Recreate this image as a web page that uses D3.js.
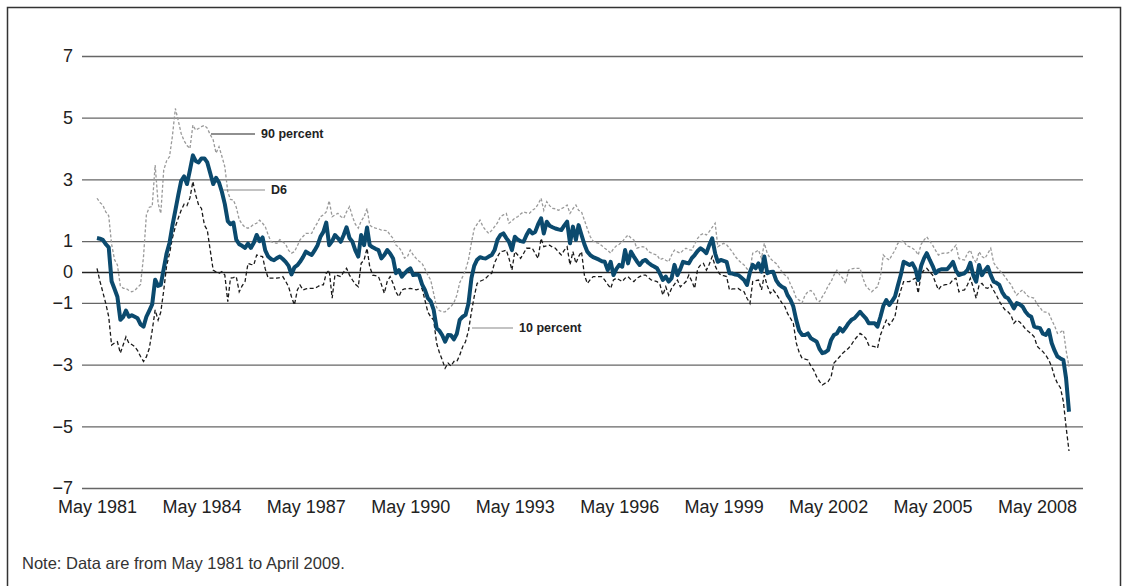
<!DOCTYPE html>
<html>
<head>
<meta charset="utf-8">
<script src="https://cdn.jsdelivr.net/npm/d3@7"></script>
<style>
  html, body { margin: 0; padding: 0; background: #fff; }
  svg { display: block; }
  text { font-family: "Liberation Sans", Arial, sans-serif; }
</style>
</head>
<body>
<svg id="chart" width="1128" height="586"></svg>
<script>
// monthly values, May 1981 .. April 2009 (one row per year, starting in May)
const d6 = [
  1.10, 1.08, 1.04, 0.90, 0.80, -0.30, -0.55, -0.80, -1.55, -1.45, -1.25, -1.45,
  -1.40, -1.45, -1.50, -1.70, -1.77, -1.45, -1.25, -1.05, -0.25, -0.45, -0.42, 0.10,
  0.60, 0.95, 1.50, 2.00, 2.50, 2.95, 3.10, 2.85, 3.30, 3.78, 3.60, 3.55,
  3.68, 3.68, 3.55, 3.20, 2.85, 3.05, 2.90, 2.60, 2.20, 1.65, 1.55, 1.60,
  1.05, 0.90, 0.85, 0.78, 0.92, 0.78, 0.95, 1.20, 1.00, 1.12, 0.70, 0.50,
  0.42, 0.38, 0.45, 0.50, 0.42, 0.33, 0.20, -0.08, 0.15, 0.22, 0.33, 0.48,
  0.66, 0.60, 0.55, 0.70, 0.87, 1.14, 1.30, 1.60, 0.87, 1.00, 1.20, 1.10,
  0.98, 1.20, 1.45, 1.10, 0.98, 0.70, 0.50, 1.20, 0.87, 1.44, 0.87, 0.80,
  0.75, 0.71, 0.44, 0.55, 0.71, 0.60, 0.44, -0.04, 0.06, -0.15, -0.05, 0.05,
  0.12, -0.10, -0.08, -0.10, -0.40, -0.58, -0.85, -0.95, -1.23, -1.82, -1.90, -2.05,
  -2.26, -2.04, -2.05, -2.18, -2.00, -1.55, -1.45, -1.39, -1.02, -0.20, 0.20, 0.40,
  0.48, 0.45, 0.44, 0.50, 0.55, 0.71, 1.05, 1.20, 1.25, 1.10, 0.98, 0.71,
  1.14, 1.05, 1.00, 0.98, 1.20, 1.36, 1.25, 1.30, 1.55, 1.74, 1.25, 1.63,
  1.50, 1.45, 1.41, 1.38, 1.36, 1.50, 1.63, 0.93, 1.47, 1.04, 1.52, 1.20,
  0.90, 0.66, 0.55, 0.48, 0.44, 0.40, 0.35, 0.33, 0.06, 0.33, -0.10, 0.10,
  0.23, 0.17, 0.71, 0.28, 0.66, 0.50, 0.35, 0.23, 0.35, 0.39, 0.30, 0.23,
  0.18, 0.12, -0.05, -0.26, -0.15, -0.31, -0.20, 0.23, -0.10, 0.10, 0.33, 0.30,
  0.28, 0.45, 0.55, 0.68, 0.77, 0.70, 0.61, 0.87, 1.09, 0.60, 0.33, 0.39,
  0.36, 0.33, -0.04, -0.05, -0.08, -0.10, -0.18, -0.26, -0.42, 0.00, 0.23, 0.12,
  0.28, 0.01, 0.50, -0.04, 0.00, 0.01, -0.26, -0.40, -0.48, -0.53, -0.75, -0.90,
  -1.12, -1.56, -1.90, -2.04, -2.04, -1.99, -2.15, -2.20, -2.26, -2.50, -2.63, -2.60,
  -2.53, -2.20, -2.04, -1.99, -1.82, -1.93, -1.80, -1.66, -1.55, -1.50, -1.40, -1.29,
  -1.40, -1.50, -1.66, -1.66, -1.66, -1.77, -1.45, -1.10, -0.91, -1.07, -0.95, -0.80,
  -0.45, -0.10, 0.33, 0.28, 0.23, 0.28, 0.10, -0.26, 0.20, 0.45, 0.61, 0.39,
  0.20, -0.04, 0.05, 0.09, 0.09, 0.09, 0.20, 0.33, 0.05, -0.10, -0.07, -0.04,
  0.06, 0.30, -0.10, -0.31, 0.23, -0.10, 0.05, 0.17, -0.10, -0.31, -0.35, -0.42,
  -0.65, -0.80, -0.85, -1.00, -1.18, -1.01, -1.05, -1.12, -1.29, -1.40, -1.45, -1.77,
  -1.80, -1.82, -2.00, -2.04, -1.88, -2.30, -2.55, -2.74, -2.80, -2.85, -3.44, -4.53
]

const p90 = [
  2.39, 2.25, 2.17, 1.95, 1.82, 0.90, 0.40, 0.23, -0.45, -0.53, -0.53, -0.60,
  -0.64, -0.60, -0.50, -0.40, 0.50, 1.85, 2.10, 2.12, 3.47, 2.23, 1.90, 3.30,
  3.60, 3.74, 4.40, 5.30, 4.90, 4.49, 4.25, 4.10, 4.00, 4.76, 4.60, 4.65,
  4.71, 4.75, 4.66, 4.45, 4.28, 3.85, 4.06, 3.75, 3.41, 2.60, 2.35, 2.33,
  2.10, 1.70, 1.55, 1.45, 1.42, 1.47, 1.55, 1.58, 1.68, 1.58, 1.47, 1.20,
  0.98, 0.95, 0.93, 1.05, 0.98, 0.90, 0.70, 0.61, 0.66, 0.85, 1.04, 1.15,
  1.25, 1.25, 1.25, 1.45, 1.60, 1.79, 1.85, 1.95, 2.31, 1.79, 1.85, 1.90,
  1.80, 1.74, 1.95, 2.12, 1.79, 1.55, 1.42, 1.65, 1.79, 2.06, 1.52, 1.45,
  1.42, 1.40, 1.36, 1.35, 1.34, 1.20, 1.09, 0.87, 0.80, 0.66, 0.45, 0.50,
  0.71, 0.55, 0.44, 0.35, 0.28, 0.10, -0.10, -0.26, -0.70, -1.15, -1.25, -1.29,
  -1.29, -1.20, -1.12, -1.00, -0.75, -0.35, -0.15, 0.06, 0.39, 0.95, 1.40, 1.55,
  1.68, 1.47, 1.35, 1.25, 1.35, 1.47, 1.60, 1.79, 1.85, 1.90, 1.58, 1.65,
  1.75, 1.79, 1.88, 1.95, 1.92, 1.90, 2.00, 2.06, 2.20, 2.39, 2.00, 2.28,
  2.15, 2.06, 2.05, 2.00, 2.05, 2.10, 2.17, 1.90, 2.05, 2.17, 2.00, 1.95,
  1.68, 1.40, 1.15, 1.00, 0.95, 0.93, 0.85, 0.77, 0.70, 0.61, 0.75, 0.85,
  0.90, 0.98, 1.10, 1.20, 1.10, 1.04, 0.77, 0.80, 0.82, 0.80, 0.66, 0.62,
  0.58, 0.55, 0.40, 0.44, 0.38, 0.33, 0.55, 0.71, 0.65, 0.61, 0.70, 0.77,
  0.72, 0.71, 0.90, 1.09, 1.20, 1.25, 1.20, 1.31, 1.45, 1.58, 0.82, 0.88,
  0.93, 0.88, 0.77, 0.65, 0.50, 0.39, 0.30, 0.23, 0.10, 0.06, 0.61, 0.65,
  0.71, 0.44, 0.93, 0.60, 0.44, 0.35, 0.28, 0.15, 0.01, -0.10, -0.15, -0.40,
  -0.58, -0.85, -0.91, -1.00, -0.75, -0.64, -0.60, -0.69, -0.90, -0.96, -0.80, -0.65,
  -0.45, -0.31, -0.10, 0.06, -0.10, -0.20, -0.37, 0.06, 0.10, 0.12, 0.12, 0.12,
  -0.20, -0.45, -0.55, -0.64, -0.55, -0.48, -0.15, 0.55, 0.45, 0.39, 0.55, 0.70,
  0.93, 0.98, 1.01, 0.85, 0.82, 0.77, 0.70, 0.55, 0.90, 1.04, 1.14, 1.00,
  0.87, 0.70, 0.55, 0.60, 0.61, 0.61, 0.65, 0.75, 0.87, 0.44, 0.40, 0.39,
  0.60, 0.71, 0.45, 0.30, 0.66, 0.50, 0.44, 0.60, 0.77, 0.30, 0.17, 0.06,
  -0.05, -0.15, -0.30, -0.40, -0.60, -0.75, -0.65, -0.58, -0.70, -0.80, -0.82, -0.85,
  -1.05, -1.15, -1.29, -1.30, -1.34, -1.55, -1.75, -1.99, -1.95, -1.88, -2.53, -3.07
]

const p10 = [
  0.12, -0.30, -0.65, -1.02, -1.45, -2.37, -2.30, -2.26, -2.63, -2.35, -2.10, -2.31,
  -2.35, -2.42, -2.55, -2.74, -2.90, -2.75, -2.47, -1.90, -1.23, -1.56, -1.30, -0.60,
  0.20, 0.60, 1.10, 1.47, 1.75, 2.00, 2.20, 2.15, 2.40, 2.93, 2.50, 2.17,
  2.06, 1.52, 1.36, 0.70, 0.06, 0.00, -0.04, 0.01, -0.10, -0.96, -0.20, -0.18,
  -0.15, -0.64, -0.45, -0.31, 0.28, 0.25, 0.23, 0.55, 0.52, 0.50, 0.10, -0.20,
  -0.20, -0.20, -0.20, -0.18, -0.15, -0.30, -0.48, -0.80, -1.07, -0.58, -0.42, -0.58,
  -0.55, -0.53, -0.53, -0.53, -0.48, -0.42, -0.42, -0.04, 0.06, -0.85, -0.10, -0.12,
  -0.15, 0.00, 0.12, -0.10, -0.26, -0.40, -0.48, 0.28, 0.39, 0.77, 0.17, -0.10,
  -0.12, -0.15, -0.40, -0.69, -0.30, -0.15, -0.37, -0.65, -0.80, -0.58, -0.55, -0.54,
  -0.53, -0.55, -0.58, -0.55, -0.53, -0.91, -1.30, -1.45, -1.56, -2.31, -2.60, -2.85,
  -3.12, -2.95, -3.05, -2.90, -2.90, -2.70, -2.42, -2.26, -1.90, -1.30, -0.80, -0.37,
  -0.30, -0.26, -0.20, -0.10, -0.04, 0.30, 0.50, 0.66, 0.68, 0.71, 0.44, 0.06,
  0.66, 0.55, 0.44, 0.60, 0.77, 0.77, 0.77, 0.60, 0.44, 1.09, 0.82, 0.85,
  0.87, 0.80, 0.77, 0.65, 0.55, 0.70, 0.82, 0.23, 0.66, 0.28, 0.50, 0.66,
  -0.10, -0.37, -0.25, -0.15, -0.15, -0.15, -0.15, -0.26, -0.40, -0.53, -0.26, -0.20,
  -0.25, -0.31, -0.20, -0.15, -0.25, -0.31, -0.20, -0.15, -0.10, -0.10, -0.18, -0.26,
  -0.28, -0.31, -0.40, -0.75, -0.48, -0.75, -0.53, -0.40, -0.26, -0.48, -0.40, -0.31,
  -0.10, -0.30, -0.53, 0.10, 0.23, 0.28, 0.06, 0.25, 0.50, 0.20, 0.01, -0.10,
  -0.12, -0.15, -0.58, -0.55, -0.55, -0.53, -0.60, -0.64, -0.85, -1.02, -0.31, -0.28,
  -0.26, -0.58, -0.10, -0.45, -0.69, -0.58, -0.70, -0.85, -1.00, -1.12, -1.34, -1.50,
  -1.66, -2.30, -2.60, -2.80, -2.82, -2.85, -3.05, -3.18, -3.40, -3.55, -3.66, -3.60,
  -3.55, -3.40, -2.95, -2.85, -2.74, -2.63, -2.55, -2.47, -2.35, -2.20, -2.10, -1.99,
  -2.05, -2.15, -2.37, -2.40, -2.42, -2.47, -2.04, -1.80, -1.56, -1.72, -1.60, -1.45,
  -0.91, -0.60, -0.31, -0.31, -0.31, -0.25, -0.20, -0.69, -0.05, 0.06, 0.12, 0.00,
  -0.10, -0.35, -0.58, -0.45, -0.42, -0.40, -0.37, -0.25, -0.20, -0.64, -0.60, -0.58,
  -0.42, -0.20, -0.50, -0.85, -0.42, -0.37, -0.50, -0.53, -0.42, -0.60, -0.75, -0.95,
  -1.10, -1.23, -1.29, -1.40, -1.66, -1.56, -1.62, -1.72, -1.85, -1.93, -2.00, -2.10,
  -2.40, -2.50, -2.58, -2.70, -2.85, -3.07, -3.40, -3.61, -3.75, -4.20, -5.01, -5.80
]

const yTicks = [7, 5, 3, 1, 0, -1, -3, -5, -7]
const xTickYears = [1981, 1984, 1987, 1990, 1993, 1996, 1999, 2002, 2005, 2008]
const noteText = 'Note: Data are from May 1981 to April 2009.'

const months = d3.timeMonth.range(new Date(1981, 4, 1), new Date(2009, 4, 1))

const svg = d3.select('#chart')
const gridLeft = 82
const gridRight = 1083

const x = d3.scaleTime()
  .domain([months[0], months[months.length - 1]])
  .range([97, 1069])

const y = d3.scaleLinear()
  .domain([-7, 7])
  .range([488, 56])

// frame (open at the bottom)
svg.append('path')
  .attr('d', 'M7.5,586 V7.5 H1120.5 V586')
  .attr('fill', 'none')
  .attr('stroke', '#333')
  .attr('stroke-width', 1.5)

// y axis with gridlines
const fmt = (v) => (v < 0 ? '\u2212' + Math.abs(v) : String(v))
const yAxis = svg.append('g')
  .attr('transform', `translate(${gridLeft},0)`)
  .call(d3.axisLeft(y).tickValues(yTicks).tickFormat(fmt)
    .tickSize(-(gridRight - gridLeft)).tickPadding(9))
yAxis.select('.domain').remove()
yAxis.selectAll('.tick line')
  .attr('stroke', (d) => (d === 0 ? '#222' : '#666'))
  .attr('stroke-width', 1.3)
yAxis.selectAll('.tick text')
  .attr('font-size', 18)
  .attr('fill', '#222')
  .style('font-family', '"Liberation Sans", Arial, sans-serif')

// x axis, labels only
const xAxis = svg.append('g')
  .attr('transform', `translate(0,${y(-7)})`)
  .call(d3.axisBottom(x)
    .tickValues(xTickYears.map((yr) => new Date(yr, 4, 1)))
    .tickFormat(d3.timeFormat('%b %Y'))
    .tickSize(0).tickPadding(12))
xAxis.select('.domain').remove()
xAxis.selectAll('.tick text')
  .attr('font-size', 18)
  .attr('fill', '#222')
  .style('font-family', '"Liberation Sans", Arial, sans-serif')

const lineOf = (vals) => d3.line()
  .x((d, i) => x(months[i]))
  .y((d) => y(d))(vals)

svg.append('path')
  .attr('d', lineOf(p90))
  .attr('fill', 'none')
  .attr('stroke', '#9a9a9a')
  .attr('stroke-width', 1.3)
  .attr('stroke-dasharray', '3,2')

svg.append('path')
  .attr('d', lineOf(p10))
  .attr('fill', 'none')
  .attr('stroke', '#1a1a1a')
  .attr('stroke-width', 1.3)
  .attr('stroke-dasharray', '4,2.5')

svg.append('path')
  .attr('d', lineOf(d6))
  .attr('fill', 'none')
  .attr('stroke', '#0b4a6e')
  .attr('stroke-width', 4)
  .attr('stroke-linejoin', 'round')

// series labels with leader lines
const labels = [
  { text: '90 percent', x1: 211, x2: 255, y: 134, stroke: '#222' },
  { text: 'D6', x1: 223, x2: 265, y: 190, stroke: '#888' },
  { text: '10 percent', x1: 472, x2: 513, y: 328, stroke: '#888' }
]
labels.forEach((l) => {
  svg.append('line')
    .attr('x1', l.x1).attr('x2', l.x2)
    .attr('y1', l.y).attr('y2', l.y)
    .attr('stroke', l.stroke)
    .attr('stroke-width', 1.2)
  svg.append('text')
    .attr('x', l.x2 + 6)
    .attr('y', l.y)
    .attr('dy', '0.35em')
    .attr('font-size', 12.5)
    .attr('font-weight', 'bold')
    .attr('fill', '#222')
    .text(l.text)
})

svg.append('text')
  .attr('x', 22)
  .attr('y', 569)
  .attr('font-size', 16.5)
  .attr('fill', '#333')
  .text(noteText)
</script>
</body>
</html>
